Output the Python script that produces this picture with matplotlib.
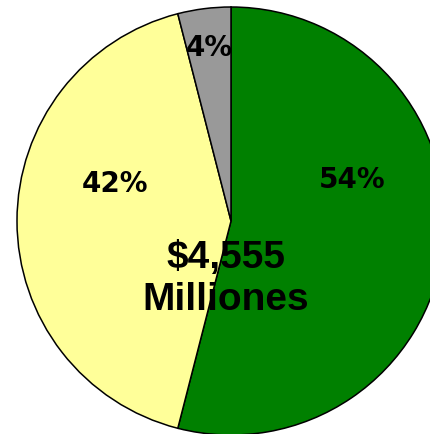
import matplotlib
matplotlib.use('Agg')
import matplotlib.pyplot as plt
import numpy as np

# shares of total (percent), clockwise from 12 o'clock
labels = ['Verde', 'Amarillo', 'Gris']
shares = [54, 42, 4]
colors = ['#008000', '#FFFF99', '#999999']
total_text = '$4,555\nMilliones'

# label placement (angle in degrees, distance as fraction of radius)
lbl_angle = [19, 162, 97]
lbl_dist = [0.60, 0.57, 0.82]

W, H = 430, 435
fig = plt.figure(figsize=(W / 100, H / 100), dpi=100)
ax = fig.add_axes([0, 0, 1, 1])
ax.set_xlim(0, W)
ax.set_ylim(0, H)
ax.set_aspect('equal')
ax.axis('off')

cx, cy, r = 231, H - 222, 214
wedges, texts, autotexts = ax.pie(shares, colors=colors, startangle=90, counterclock=False,
                                  center=(cx, cy), radius=r, autopct='%d%%',
                                  wedgeprops=dict(edgecolor='black', linewidth=1.1),
                                  textprops=dict(fontsize=20, fontweight='bold',
                                                 family='DejaVu Sans'))
ax.set_xlim(0, W)
ax.set_ylim(0, H)

for t, a, d in zip(autotexts, lbl_angle, lbl_dist):
    t.set_position((cx + d * r * np.cos(np.radians(a)), cy + d * r * np.sin(np.radians(a))))

ax.text(cx - 5, cy - 57, total_text, ha='center', va='center', fontsize=28,
        fontweight='bold', family='Liberation Sans', linespacing=1.25)

fig.savefig('out.png', dpi=100)
